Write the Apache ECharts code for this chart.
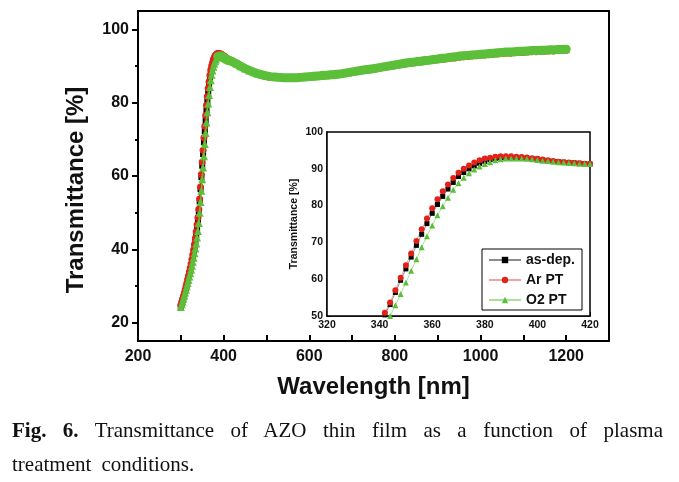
<!DOCTYPE html>
<html>
<head>
<meta charset="utf-8">
<script src="https://cdn.jsdelivr.net/npm/echarts@6/dist/echarts.min.js"></script>
<style>
html,body{margin:0;padding:0;background:#fff;}
#wrap{position:relative;width:679px;height:482px;overflow:hidden;}
#chart{position:absolute;left:0;top:0;width:679px;height:482px;}
.cap{position:absolute;left:12px;width:651px;font-family:'Liberation Serif','Times New Roman',serif;font-size:21px;color:#111;line-height:24px;}
#cap1{top:418px;text-align:justify;text-align-last:justify;}
#cap2{top:452px;word-spacing:5px;}
</style>
</head>
<body>
<div id="wrap">
<div id="chart"></div>
<div class="cap" id="cap1"><b>Fig. 6.</b> Transmittance of AZO thin film as a function of plasma</div>
<div class="cap" id="cap2">treatment conditions.</div>
</div>
<script>
// Wavelength grid (nm)
var wlFine = [300,302,304,306,308,310,312,314,316,318,320,322,324,326,328,330,332,334,336,338,340,342,344,346,348,350,352,354,356,358,360,362,364,366,368,370,372,374,376,378,380,382,384,386,388,390,392,394,396,398,400,402,404,406,408,410,412,414,416,418,420];
var wlCoarse = [430,440,450,460,470,480,490,500,510,520,530,540,550,560,570,580,590,600,610,620,630,640,650,660,670,680,690,700,710,720,730,740,750,760,770,780,790,800,810,820,830,840,850,860,870,880,890,900,910,920,930,940,950,960,970,980,990,1000,1010,1020,1030,1040,1050,1060,1070,1080,1090,1100,1110,1120,1130,1140,1150,1160,1170,1180,1190,1200];

// Transmittance (%) – as-dep.
var asDepFine = [24.5,25.3,26.1,26.9,27.7,28.6,29.5,30.4,31.4,32.4,33.4,34.5,35.6,36.8,38.0,39.3,40.7,42.2,43.9,45.7,47.8,50.3,53.1,56.4,59.7,62.8,66.0,69.2,72.2,75.1,77.9,80.3,82.5,84.5,86.3,87.9,89.0,90.0,90.8,91.5,92.0,92.5,92.8,93.0,93.0,93.0,93.0,93.0,92.9,92.7,92.6,92.4,92.2,92.0,91.9,91.8,91.7,91.6,91.5,91.4,91.3];
var asDepCoarse = [90.7,90.0,89.4,88.9,88.4,88.0,87.7,87.4,87.2,87.1,87.0,86.9,86.9,86.9,86.9,87.0,87.1,87.2,87.3,87.4,87.5,87.6,87.7,87.8,87.9,88.1,88.3,88.5,88.7,88.9,89.1,89.2,89.4,89.6,89.8,90.0,90.2,90.4,90.6,90.8,91.0,91.1,91.3,91.4,91.6,91.7,91.9,92.0,92.2,92.3,92.5,92.6,92.8,92.9,93.0,93.1,93.2,93.3,93.4,93.5,93.6,93.7,93.8,93.9,93.9,94.0,94.1,94.1,94.2,94.3,94.3,94.4,94.4,94.5,94.5,94.6,94.6,94.7];

// Transmittance (%) – Ar PT
var arFine = [24.6,25.4,26.2,27.0,27.9,28.8,29.7,30.7,31.7,32.7,33.8,34.9,36.0,37.2,38.5,39.9,41.4,43.0,44.8,46.7,48.7,50.9,53.7,57.0,60.4,63.8,67.0,70.4,73.6,76.5,79.3,81.7,83.9,85.7,87.5,88.9,90.0,90.9,91.7,92.3,92.8,93.0,93.3,93.4,93.4,93.4,93.3,93.2,93.1,92.9,92.7,92.5,92.3,92.1,91.9,91.8,91.7,91.6,91.5,91.4,91.3];
var arCoarse = [90.7,90.0,89.3,88.8,88.3,87.9,87.5,87.2,87.0,86.9,86.8,86.7,86.7,86.7,86.7,86.8,86.9,87.0,87.1,87.2,87.3,87.4,87.5,87.6,87.7,87.9,88.1,88.3,88.5,88.7,88.9,89.0,89.2,89.4,89.6,89.8,89.9,90.1,90.3,90.5,90.7,90.8,91.0,91.1,91.3,91.4,91.5,91.7,91.8,92.0,92.1,92.2,92.4,92.5,92.6,92.7,92.8,92.9,93.0,93.1,93.2,93.3,93.4,93.5,93.5,93.6,93.7,93.7,93.8,93.9,93.9,94.0,94.0,94.1,94.1,94.2,94.2,94.3];

// Transmittance (%) – O2 PT
var o2Fine = [24.3,25.0,25.8,26.6,27.4,28.2,29.0,29.9,30.8,31.7,32.6,33.5,34.5,35.5,36.6,37.7,38.9,40.2,41.6,43.2,45.0,47.2,50.0,52.9,56.0,59.1,62.3,65.4,68.7,71.7,74.6,77.4,79.8,82.1,84.3,86.1,87.6,88.8,89.8,90.6,91.3,91.8,92.3,92.6,92.8,92.8,92.8,92.8,92.7,92.6,92.4,92.2,92.1,91.9,91.8,91.7,91.6,91.5,91.4,91.4,91.3];
var o2Coarse = [90.6,89.9,89.3,88.8,88.3,87.9,87.6,87.3,87.1,87.0,86.9,86.8,86.8,86.8,86.8,86.9,87.0,87.1,87.2,87.3,87.4,87.5,87.6,87.7,87.8,88.0,88.2,88.4,88.6,88.8,89.0,89.1,89.3,89.5,89.7,89.9,90.1,90.3,90.5,90.7,90.9,91.0,91.2,91.3,91.5,91.6,91.8,91.9,92.1,92.2,92.4,92.5,92.7,92.8,92.9,93.0,93.1,93.2,93.3,93.4,93.5,93.6,93.7,93.8,93.8,93.9,94.0,94.0,94.1,94.2,94.2,94.3,94.3,94.4,94.4,94.5,94.5,94.6];

var seriesNames = ['as-dep.', 'Ar PT', 'O2 PT'];
var mainXTicks = [200,400,600,800,1000,1200];
var mainYTicks = [20,40,60,80,100];
var mainYMinor = [30,50,70,90];

var wl = wlFine.concat(wlCoarse);
function pairs(f, c) {
  var v = f.concat(c);
  return wl.map(function (x, i) { return [x, v[i]]; });
}
var dAs = pairs(asDepFine, asDepCoarse);
var dAr = pairs(arFine, arCoarse);
var dO2 = pairs(o2Fine, o2Coarse);
var dO2Band = dO2.filter(function (p) { return p[0] >= 386; });

var FONT = "'Liberation Sans', Arial, sans-serif";
var C_BLACK = '#000000', C_RED = '#e32119', C_GREEN = '#5cbf3a';

var chart = echarts.init(document.getElementById('chart'), null, {renderer: 'canvas'});
var boldTxt = function (size) { return {fontFamily: FONT, fontWeight: 'bold', fontSize: size, color: '#111'}; };

var option = {
  animation: false,
  backgroundColor: '#ffffff',
  grid: [
    {left: 138, top: 11, width: 471, height: 330, show: true, borderColor: '#000', borderWidth: 2, backgroundColor: 'transparent'},
    {left: 327, top: 132, width: 263, height: 184, show: true, borderColor: '#000', borderWidth: 1.5, backgroundColor: '#fff', z: 5}
  ],
  legend: {
    data: seriesNames,
    orient: 'vertical',
    left: 482, top: 249,
    itemWidth: 32, itemHeight: 8, itemGap: 6,
    padding: [4, 7, 3, 6],
    borderColor: '#000', borderWidth: 1,
    backgroundColor: '#fff',
    textStyle: boldTxt(14),
    z: 20
  },
  xAxis: [
    {
      type: 'value', gridIndex: 0, min: 200, max: 1300, interval: 100,
      axisLine: {lineStyle: {color: '#000', width: 2}},
      axisTick: {inside: true, length: 6, lineStyle: {color: '#000', width: 2}},
      axisLabel: Object.assign(boldTxt(16), {margin: 8, formatter: function (v) { return mainXTicks.indexOf(v) >= 0 ? String(v) : ''; }}),
      splitLine: {show: false},
      name: 'Wavelength [nm]', nameLocation: 'middle', nameGap: 34,
      nameTextStyle: boldTxt(24)
    },
    {
      type: 'value', gridIndex: 1, min: 320, max: 420, interval: 20,
      axisLine: {lineStyle: {color: '#000', width: 1.5}},
      axisTick: {inside: true, length: 4, lineStyle: {color: '#000', width: 1}},
      minorTick: {show: true, splitNumber: 2, length: 3, lineStyle: {color: '#000', width: 1}},
      axisLabel: Object.assign(boldTxt(10.5), {margin: 4}),
      splitLine: {show: false}
    }
  ],
  yAxis: [
    {
      type: 'value', gridIndex: 0, min: 15, max: 105, position: 'left',
      axisLine: {show: true, lineStyle: {color: '#000', width: 2}},
      axisTick: {show: true, inside: false, length: 6, customValues: mainYTicks, lineStyle: {color: '#000', width: 2}},
      axisLabel: Object.assign(boldTxt(16), {margin: 9, customValues: mainYTicks}),
      splitLine: {show: false},
      name: 'Transmittance [%]', nameLocation: 'middle', nameGap: 50,
      nameTextStyle: Object.assign(boldTxt(24), {padding: [0, 28, 0, 0]})
    },
    {
      type: 'value', gridIndex: 0, min: 15, max: 105, position: 'left', offset: 0,
      axisLine: {show: false},
      axisTick: {show: true, inside: false, length: 3, customValues: mainYMinor, lineStyle: {color: '#000', width: 2}},
      axisLabel: {show: false},
      splitLine: {show: false}
    },
    {
      type: 'value', gridIndex: 1, min: 50, max: 100, interval: 10,
      axisLine: {show: true, lineStyle: {color: '#000', width: 1.5}},
      axisTick: {inside: true, length: 4, lineStyle: {color: '#000', width: 1}},
      minorTick: {show: true, splitNumber: 2, length: 3, lineStyle: {color: '#000', width: 1}},
      axisLabel: Object.assign(boldTxt(10.5), {margin: 4}),
      splitLine: {show: false},
      name: 'Transmittance [%]', nameLocation: 'middle', nameGap: 27,
      nameTextStyle: boldTxt(10.5)
    }
  ],
  series: [
    // main plot
    {name: 'm-as', type: 'line', xAxisIndex: 0, yAxisIndex: 0, data: dAs, symbol: 'rect', symbolSize: 6,
     itemStyle: {color: C_BLACK}, lineStyle: {color: C_BLACK, width: 1.5}, z: 2},
    {name: 'm-ar', type: 'line', xAxisIndex: 0, yAxisIndex: 0, data: dAr, symbol: 'circle', symbolSize: 7,
     itemStyle: {color: C_RED}, lineStyle: {color: C_RED, width: 1.5}, z: 3},
    {name: 'm-o2', type: 'line', xAxisIndex: 0, yAxisIndex: 0, data: dO2, symbol: 'triangle', symbolSize: 8,
     itemStyle: {color: C_GREEN}, lineStyle: {color: C_GREEN, width: 1.5}, z: 4},
    {name: 'm-o2-band', type: 'line', xAxisIndex: 0, yAxisIndex: 0, data: dO2Band, symbol: 'none', smooth: false,
     lineStyle: {color: C_GREEN, width: 9, cap: 'round', join: 'round'}, z: 4},
    // inset
    {name: seriesNames[0], type: 'line', xAxisIndex: 1, yAxisIndex: 2, data: dAs, symbol: 'rect', symbolSize: 5,
     itemStyle: {color: C_BLACK}, lineStyle: {color: '#8c8c8c', width: 1}, z: 10},
    {name: seriesNames[1], type: 'line', xAxisIndex: 1, yAxisIndex: 2, data: dAr, symbol: 'circle', symbolSize: 6,
     itemStyle: {color: C_RED}, lineStyle: {color: '#f3a3a0', width: 1}, z: 10},
    {name: seriesNames[2], type: 'line', xAxisIndex: 1, yAxisIndex: 2, data: dO2, symbol: 'triangle', symbolSize: 6,
     itemStyle: {color: C_GREEN}, lineStyle: {color: '#a8e196', width: 1}, z: 10}
  ]
};
chart.setOption(option);
</script>
</body>
</html>
